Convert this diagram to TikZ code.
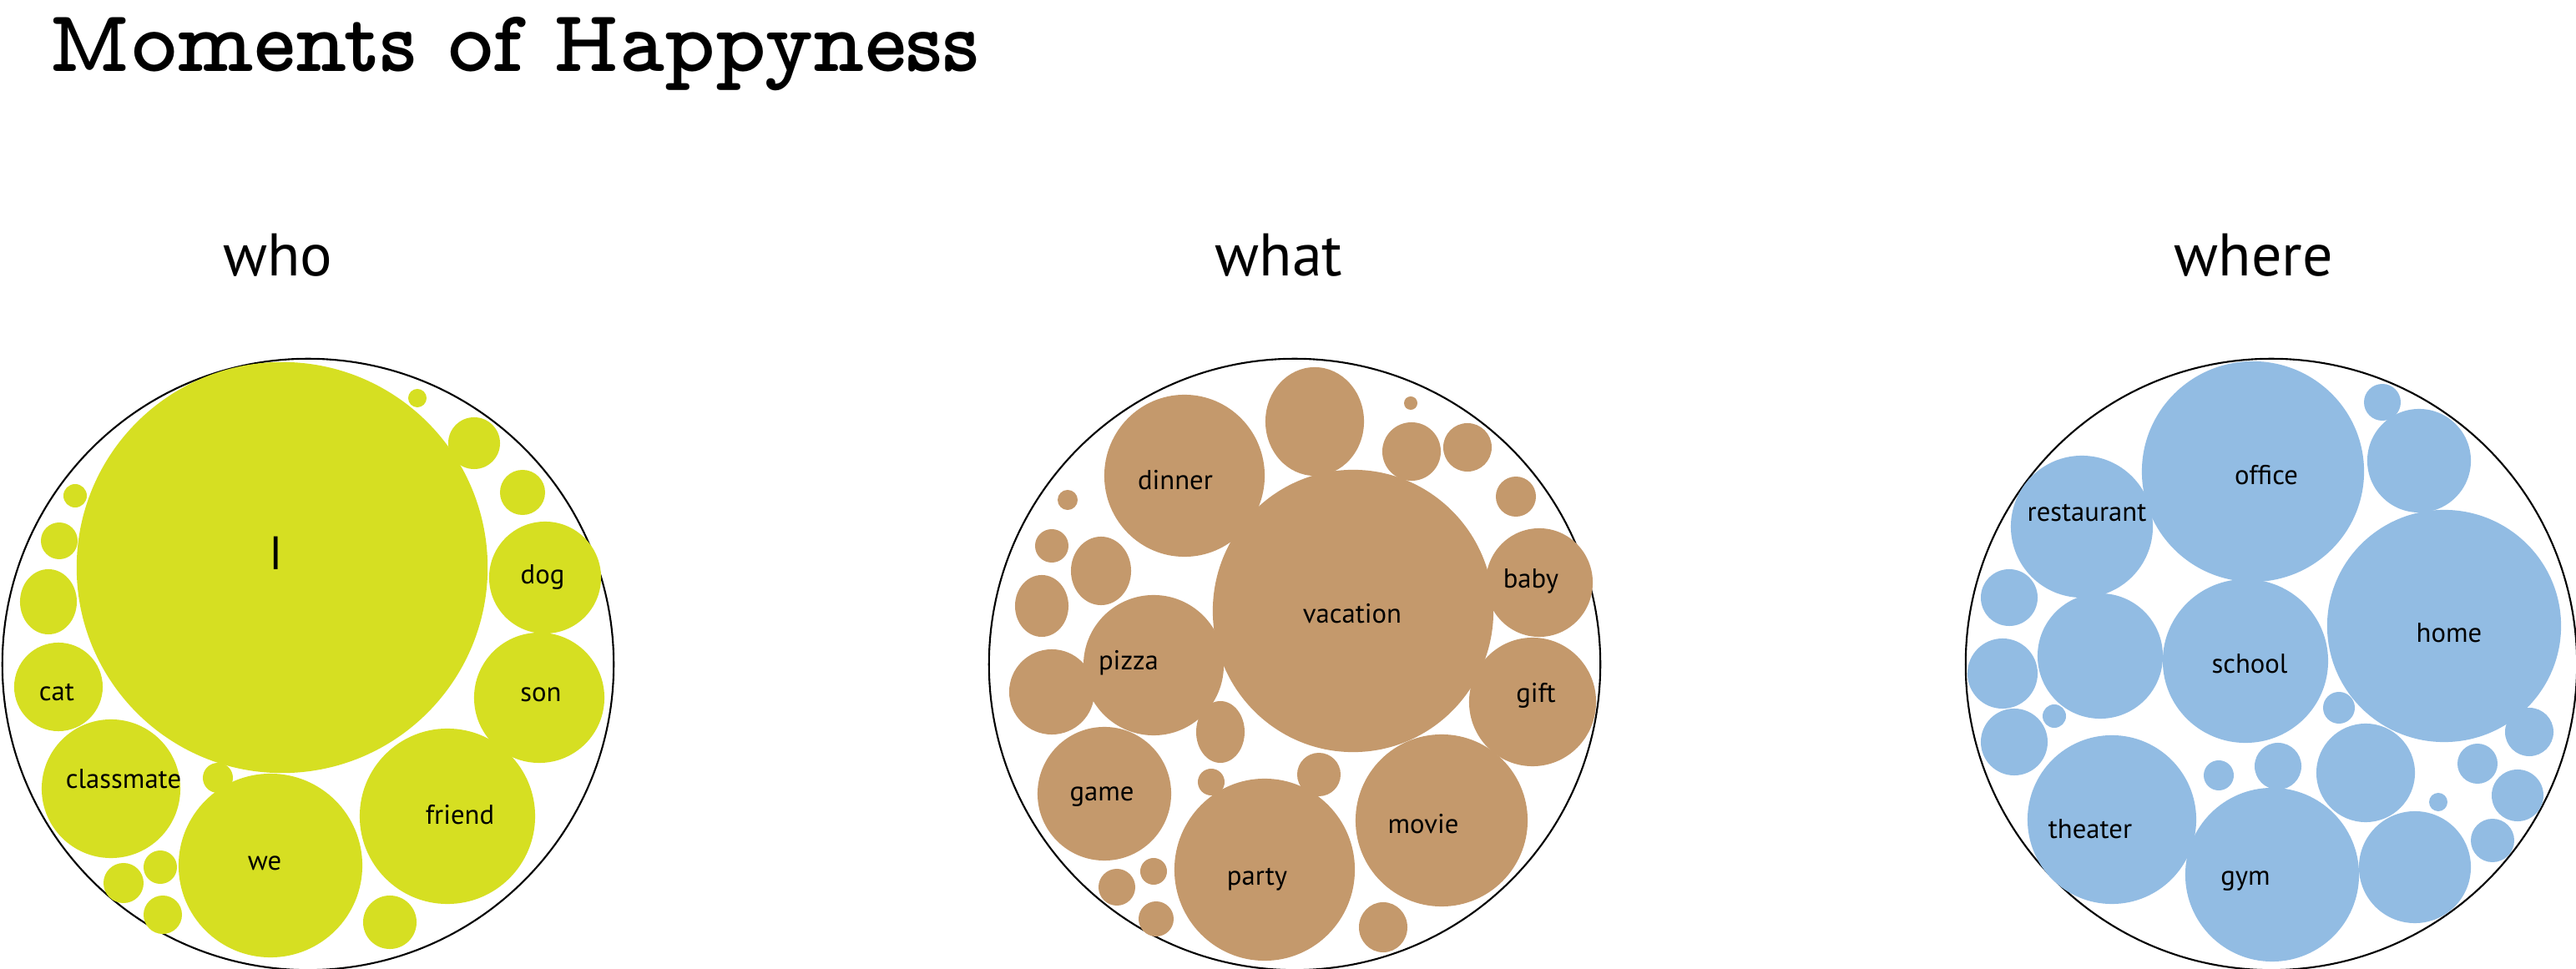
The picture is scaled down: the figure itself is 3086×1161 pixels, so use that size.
\documentclass[tikz,border=0pt]{standalone}
\usepackage{fontspec}
\setsansfont{PT Sans}
\newfontfamily\titlefont{lmmonoproplt10-bold}[Extension=.otf]
\usetikzlibrary{shapes.geometric}
\definecolor{whocol}{RGB}{214,223,34}
\definecolor{whatcol}{RGB}{196,153,108}
\definecolor{wherecol}{RGB}{146,188,227}
\tikzset{
  ring/.style={circle, draw, line width=0.6pt, inner sep=0pt, minimum size=7.32cm},
  bub/.style={ellipse, inner sep=0pt, fill=#1},
  tag/.style={font=\sffamily\fontsize{9.3}{11}\selectfont, inner sep=0pt},
  head/.style={font=\sffamily\fontsize{20.5}{24}\selectfont, anchor=base, inner sep=0pt}
}

\begin{document}
\begin{tikzpicture}[x=0.01cm, y=-0.01cm]
\useasboundingbox (0,0) rectangle (3086,1161);

\node[anchor=base west, inner sep=0pt, font=\titlefont\fontsize{30}{36}\selectfont] (title) at (58,86) {Moments of Happyness};

\node[head] (whohead) at (333,331) {who};
\node[head] (whathead) at (1532,331) {what};
\node[head] (wherehead) at (2700,331) {where};

\node[ring] (whoring) at (369,796) {};
\node[ring] (whatring) at (1551,796) {};
\node[ring] (wherering) at (2721,796) {};

% who
\foreach \x/\y/\rx/\ry/\n in {338/680/246/246/I, 653/692/67/67/dog, 646/836/78/78/son,
  536/978/105/105/friend, 324/1037/110/110/we, 133/945/83/83/classmate, 70/823/53/53/cat,
  500/477/11/11/w1, 568/531/31/31/w2, 626/590/27/27/w3, 467/1105/32/32/w4, 261/932/18/18/w5,
  58/721/34/39/w6, 71/648/22/22/w7, 90/594/14/14/w8, 148/1058/24/24/w9, 192/1039/20/20/w10,
  195/1096/23/23/w11}
  \node[bub=whocol, minimum width=\rx*0.02cm, minimum height=\ry*0.02cm] (\n) at (\x,\y) {};

% what
\foreach \x/\y/\rx/\ry/\n in {1621/732/168/169/vacation, 1419/570/96/97/dinner, 1844/698/64/65/baby,
  1836/841/76/77/gift, 1727/983/103/103/movie, 1515/1042/108/109/party, 1382/797/84/84/pizza,
  1323/951/80/80/game, 1575/505/59/65/t1, 1690/483/8/8/t2, 1691/541/35/35/t3, 1758/536/29/29/t4,
  1816/595/24/24/t5, 1657/1111/29/30/t6, 1580/928/26/26/t7, 1451/937/16/16/t8, 1462/877/29/37/t9,
  1260/829/51/51/t10, 1319/684/36/41/t11, 1248/726/32/37/t12, 1260/654/20/20/t13, 1279/599/12/12/t14,
  1382/1044/16/16/t15, 1338/1063/22/22/t16, 1385/1101/21/21/t17}
  \node[bub=whatcol, minimum width=\rx*0.02cm, minimum height=\ry*0.02cm] (\n) at (\x,\y) {};

% where
\foreach \x/\y/\rx/\ry/\n in {2699/565/133/132/office, 2494/631/85/85/restaurant, 2690/792/99/98/school,
  2928/750/140/139/home, 2530/982/101/101/theater, 2722/1048/104/104/gym, 2854/482/22/22/p1,
  2898/552/62/62/p2, 2407/716/34/34/p3, 2399/807/42/42/p4, 2516/786/75/75/p5, 2413/889/40/40/p6,
  2461/858/14/14/p7, 2658/929/18/18/p8, 2729/918/28/28/p9, 2802/848/19/19/p10, 2834/926/59/59/p11,
  2921/961/11/11/p12, 2893/1039/67/67/p13, 2968/915/24/24/p14, 3030/877/29/29/p15,
  3016/953/31/31/p16, 2986/1007/26/26/p17}
  \node[bub=wherecol, minimum width=\rx*0.02cm, minimum height=\ry*0.02cm] (\n) at (\x,\y) {};

% labels
\node[tag, font=\sffamily\fontsize{16}{18}\selectfont] at ([shift={(-7,-17)}]I) {I};
\foreach \n/\dx/\dy in {dog/-3/0, son/2/-4, friend/15/-2, we/-7/-3, classmate/15/-12, cat/-2/7,
  vacation/-1/3, dinner/-11/5, baby/-10/-2, gift/4/-8, movie/-22/4, party/-9/12, pizza/-30/-3, game/-3/4,
  office/16/4, restaurant/6/-16, school/5/3, home/6/8, theater/-26/11, gym/-32/8}
  \node[tag] at ([shift={(\dx,\dy)}]\n) {\n};

\end{tikzpicture}
\end{document}
